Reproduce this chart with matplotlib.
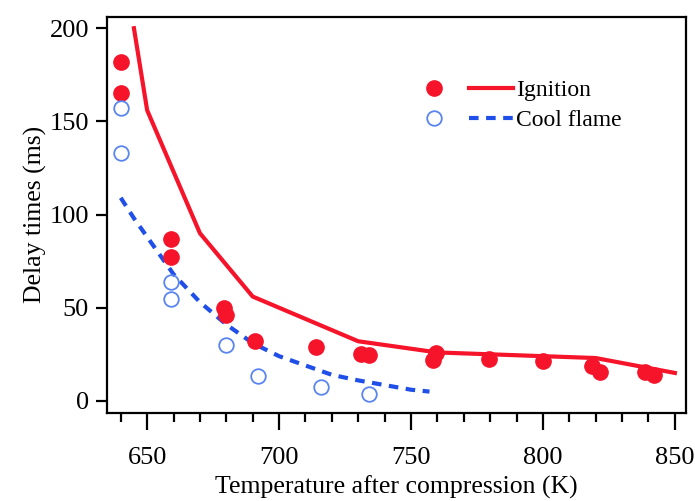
import numpy as np
import matplotlib.pyplot as plt
from matplotlib.legend_handler import HandlerTuple
from matplotlib.ticker import MultipleLocator

# measured ignition delays (filled) and cool flame delays (open)
ign_T = [640, 640, 659, 659, 679, 680, 691, 714, 731, 734, 759.5, 758.5,
         779.5, 800, 818.5, 821.5, 838.5, 842]
ign_t = [182, 165, 87, 77, 50, 46, 32, 29, 25, 24.5, 25.7, 22,
         22.5, 21.5, 18.8, 15.5, 15.5, 14]
cool_T = [640, 640, 659, 659, 680, 692, 716, 734]
cool_t = [157, 133, 63.8, 54.7, 30, 13.5, 7.5, 3.5]

# model curves
ign_model_T = [645, 650, 670, 690, 730, 760, 820, 850]
ign_model_t = [200, 156, 90, 56, 32, 26, 23, 15]
cool_model_T = [640, 645, 650, 660, 670, 680, 690, 700, 710, 720, 730, 740, 750, 757]
cool_model_t = [109, 98, 88, 68, 53, 41, 31, 24, 19, 14, 11, 8.5, 6, 5]

red = "#f5142a"
blue = "#1f4fe8"
light_blue = "#5a85f0"

plt.rcParams["font.family"] = ["Liberation Serif", "DejaVu Serif"]

fig = plt.figure(figsize=(6.95, 5.01), dpi=100)
ax = fig.add_axes([0.154, 0.176, 0.833, 0.79])

dots, = ax.plot(ign_T, ign_t, "o", color=red, ms=11, zorder=3)
circles, = ax.plot(cool_T, cool_t, "o", mfc="none", mec=light_blue, mew=1.3,
                   ms=10.5, zorder=3)
ign_line, = ax.plot(ign_model_T, ign_model_t, "-", color=red, lw=3)
cool_line, = ax.plot(cool_model_T, cool_model_t, "--", color=blue, lw=3,
                     dashes=(2.3, 1.8))

ax.set_xlim(634.8, 854.2)
ax.set_ylim(-6.4, 206)
ax.xaxis.set_major_locator(MultipleLocator(50))
ax.xaxis.set_minor_locator(MultipleLocator(10))
ax.yaxis.set_major_locator(MultipleLocator(50))

for s in ax.spines.values():
    s.set_linewidth(1.6)
ax.tick_params(axis="x", which="major", length=12.5, width=1.6, labelsize=19, pad=12)
ax.tick_params(axis="x", which="minor", length=6.5, width=1.6)
ax.tick_params(axis="y", which="major", length=8, width=1.6, labelsize=19, pad=5)

ax.set_xlabel("Temperature after compression (K)", fontsize=18.5, labelpad=5)
ax.set_ylabel("Delay times (ms)", fontsize=18.5, labelpad=2)

ax.legend([(dots, ign_line), (circles, cool_line)], ["Ignition", "Cool flame"],
          handler_map={tuple: HandlerTuple(ndivide=None, pad=0.5)},
          loc="upper left", bbox_to_anchor=(0.49, 0.895), frameon=False,
          fontsize=17, handlelength=4.3, handletextpad=0.1, labelspacing=0.35)

fig.savefig("out.png", dpi=100)
